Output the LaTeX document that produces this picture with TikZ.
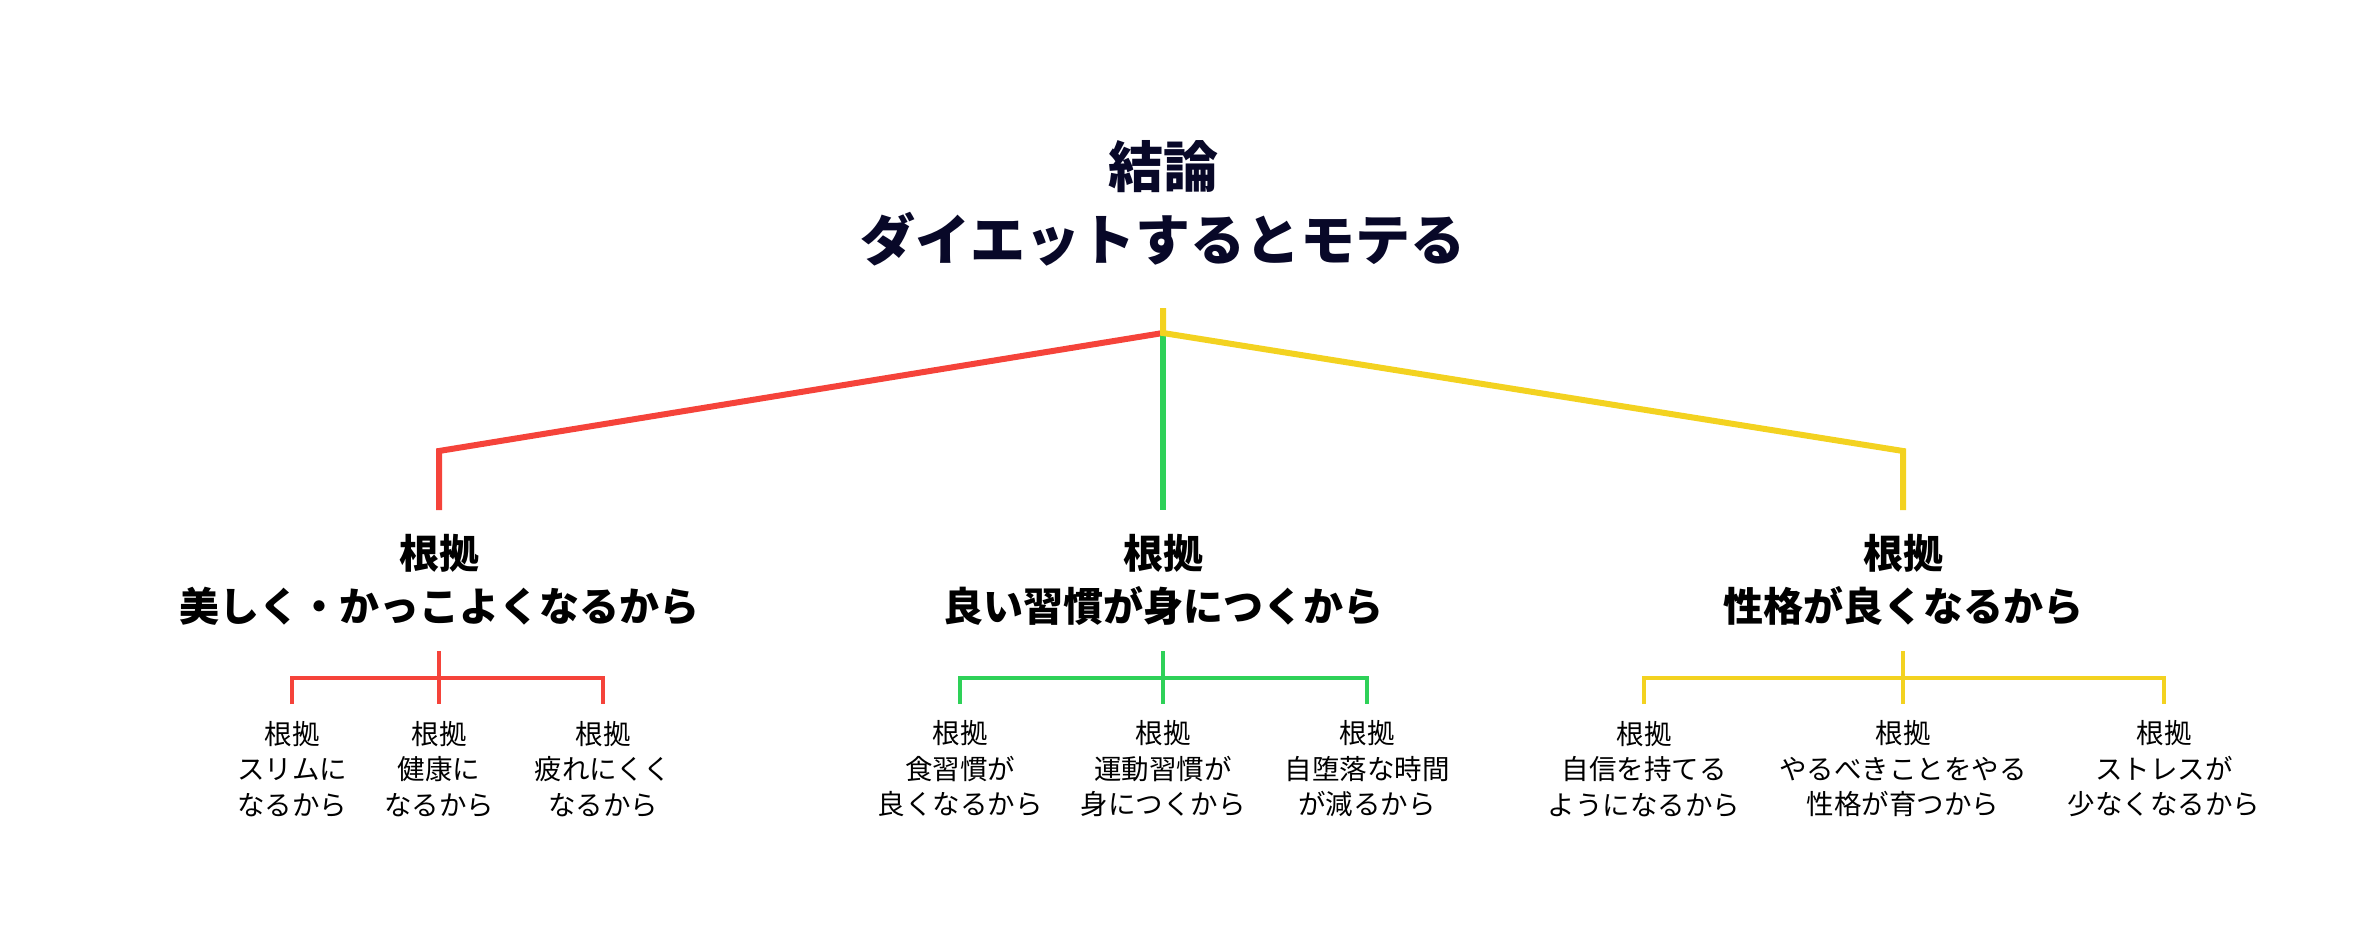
\documentclass[tikz,border=0pt]{standalone}
\usepackage{fontspec}
\newfontfamily\jp{Noto Sans CJK JP}
\definecolor{cred}{RGB}{245,67,58}
\definecolor{cgreen}{RGB}{46,209,88}
\definecolor{cyellow}{RGB}{243,210,32}
\definecolor{cnavy}{RGB}{8,8,40}
\tikzset{
  mainline/.style={line width=6pt},
  subline/.style={line width=4pt},
  titlebox/.style={inner sep=0pt, align=center, text=cnavy, font=\jp\bfseries\fontsize{55}{73}\selectfont},
  midbox/.style={inner sep=0pt, align=center, text=black, font=\jp\bfseries\fontsize{40}{53}\selectfont},
  leafbox/.style={inner sep=0pt, align=center, text=black, font=\jp\fontsize{27.5}{35.5}\selectfont},
}
\begin{document}
\begin{tikzpicture}[x=1pt,y=-1pt]
\useasboundingbox (0,0) rectangle (2374,936);
% title
\node[titlebox] (title) at (1163,203) {結論\\ダイエットするとモテる};
% junction coordinates
\coordinate (top) at (1163,308);
\coordinate (j) at (1163,333);
\coordinate (rc) at (439,451);
\coordinate (yc) at (1903,451);
\coordinate (rb) at (439,510);
\coordinate (gb) at (1163,510);
\coordinate (yb) at (1903,510);
% mid labels
\node[midbox] (m1) at (439,580) {根拠\\美しく・かっこよくなるから};
\node[midbox] (m2) at (1163,580) {根拠\\良い習慣が身につくから};
\node[midbox] (m3) at (1903,580) {根拠\\性格が良くなるから};
% main connectors
\draw[mainline, cred] (j) -- (rc) -- (rb);
\draw[mainline, cgreen] (j) -- (gb);
\draw[mainline, cyellow] (top) -- (j) -- (yc) -- (yb);
% leaf labels
\node[leafbox] (r1) at (292,769) {根拠\\スリムに\\なるから};
\node[leafbox] (r2) at (439,769) {根拠\\健康に\\なるから};
\node[leafbox] (r3) at (603,769) {根拠\\疲れにくく\\なるから};
\node[leafbox] (g1) at (960,769) {根拠\\食習慣が\\良くなるから};
\node[leafbox] (g2) at (1163,769) {根拠\\運動習慣が\\身につくから};
\node[leafbox] (g3) at (1367,769) {根拠\\自堕落な時間\\が減るから};
\node[leafbox] (y1) at (1644,769) {根拠\\自信を持てる\\ようになるから};
\node[leafbox] (y2) at (1903,769) {根拠\\やるべきことをやる\\性格が育つから};
\node[leafbox] (y3) at (2164,769) {根拠\\ストレスが\\少なくなるから};
% sub-branch coordinates
\foreach \n/\x in {r/439,g/1163,y/1903}{
  \coordinate (\n s) at (\x,651);
  \coordinate (\n h) at (\x,678);
}
\foreach \n/\x in {r1/292,r2/439,r3/603,g1/960,g2/1163,g3/1367,y1/1644,y2/1903,y3/2164}{
  \coordinate (\n t) at (\x,678);
  \coordinate (\n b) at (\x,704);
}
\draw[subline, cred] (rs) -- (rh) (r1b) -- (r1t) -- (r3t) -- (r3b) (r2t) -- (r2b);
\draw[subline, cgreen] (gs) -- (gh) (g1b) -- (g1t) -- (g3t) -- (g3b) (g2t) -- (g2b);
\draw[subline, cyellow] (ys) -- (yh) (y1b) -- (y1t) -- (y3t) -- (y3b) (y2t) -- (y2b);
\end{tikzpicture}
\end{document}
